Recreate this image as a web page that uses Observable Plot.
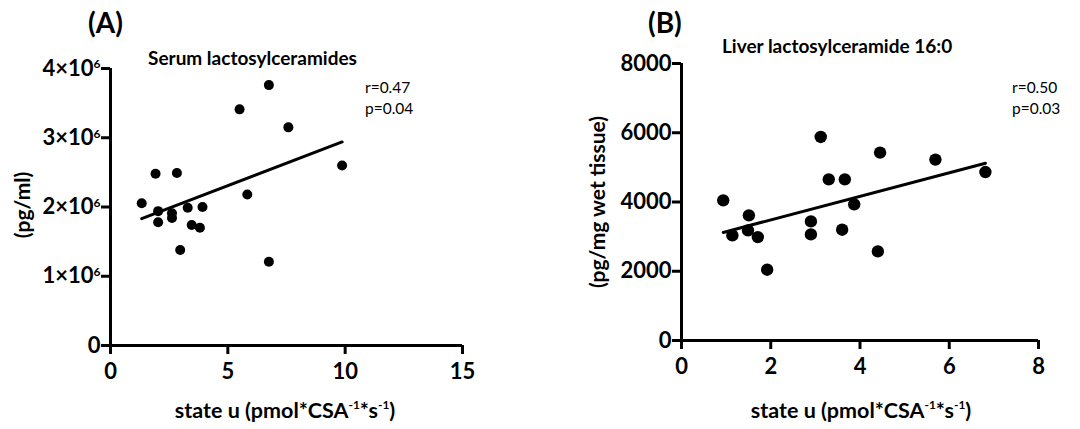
<!DOCTYPE html>
<html><head><meta charset="utf-8">
<script src="https://cdn.jsdelivr.net/npm/d3@7"></script>
<script src="https://cdn.jsdelivr.net/npm/@observablehq/plot@0.6"></script>
<style>
body{margin:0;background:#fff;font-family:Lato,"Open Sans",sans-serif;}
#root{position:relative;width:1080px;height:429px;overflow:hidden;background:#fff;}
#root svg{position:absolute;top:0;}
.t{position:absolute;white-space:nowrap;color:#000;line-height:1;}
.b{font-weight:bold;}
sup{font-size:0.55em;vertical-align:0.8em;line-height:0;}
</style></head><body><div id="root"></div>
<script>
// Panel A: Serum lactosylceramides
const serumX = [1.33,1.92,2.83,2.03,2.03,2.62,2.62,3.29,3.92,3.46,3.81,2.97,6.75,5.50,7.58,9.87,5.83,6.75];
const serumY = [2.055e6,2.48e6,2.49e6,1.94e6,1.78e6,1.91e6,1.84e6,1.99e6,2.00e6,1.74e6,1.70e6,1.38e6,3.76e6,3.41e6,3.15e6,2.60e6,2.18e6,1.21e6];
const serumXTicks = [0,5,10,15];
const serumYTicks = [0,1e6,2e6,3e6,4e6];
// Panel B: Liver lactosylceramide 16:0
const liverX = [0.935,1.14,1.51,1.49,1.71,1.92,2.90,2.90,3.12,3.30,3.66,3.60,3.87,4.45,4.40,5.69,6.81];
const liverY = [4047,3036,3614,3180,2987,2044,3440,3064,5878,4654,4654,3200,3932,5426,2573,5224,4866];
const liverXTicks = [0,2,4,6,8];
const liverYTicks = [0,2000,4000,6000,8000];

const FONT = 'Lato, "Open Sans", sans-serif';

function panel({xs, ys, xTicks, yTicks, yFormat, margins, r}) {
  const data = xs.map((x, i) => ({x, y: ys[i]}));
  return Plot.plot({
    width: 540, height: 429, ...margins,
    style: {fontFamily: FONT, fontSize: "22px", fontWeight: "bold", color: "black", background: "transparent", overflow: "visible"},
    x: {domain: [xTicks[0], xTicks[xTicks.length - 1]]},
    y: {domain: [yTicks[0], yTicks[yTicks.length - 1]]},
    marks: [
      Plot.axisX({ticks: xTicks, tickSize: 9, strokeWidth: 3, tickPadding: 9, label: null, fontWeight: "bold"}),
      Plot.axisY({ticks: yTicks, tickSize: 9, strokeWidth: 3, tickPadding: 1, label: null, tickFormat: yFormat, fontWeight: "bold"}),
      Plot.ruleY([yTicks[0]], {stroke: "black", strokeWidth: 3}),
      Plot.ruleX([xTicks[0]], {stroke: "black", strokeWidth: 3}),
      Plot.dot(data, {x: "x", y: "y", r, fill: "black", stroke: "none"}),
      Plot.linearRegressionY(data, {x: "x", y: "y", ci: 0, stroke: "black", strokeWidth: 3})
    ]
  });
}

const root = document.getElementById("root");

const svgA = panel({
  xs: serumX, ys: serumY, xTicks: serumXTicks, yTicks: serumYTicks,
  yFormat: d => d === 0 ? "0" : `${d / 1e6}×10`,
  margins: {marginLeft: 110, marginRight: 78, marginTop: 68, marginBottom: 84},
  r: 5
});
svgA.style.left = "0px";
root.appendChild(svgA);
svgA.querySelectorAll('g[aria-label="y-axis tick label"] text').forEach(t => {
  if (t.textContent.endsWith("×10")) {
    const s = document.createElementNS("http://www.w3.org/2000/svg", "tspan");
    s.setAttribute("dy", "-0.6em");
    s.setAttribute("font-size", "12");
    s.textContent = "6";
    t.appendChild(s);
  }
});

const svgB = panel({
  xs: liverX, ys: liverY, xTicks: liverXTicks, yTicks: liverYTicks,
  yFormat: d => String(d),
  margins: {marginLeft: 141, marginRight: 42, marginTop: 63, marginBottom: 89},
  r: 6.2
});
svgB.style.left = "540px";
root.appendChild(svgB);

const texts = [
  {html: "(A)", x: 88, y: 22, size: 28, bold: true, anchor: "left"},
  {html: "Serum lactosylceramides", x: 148, y: 57, size: 19, bold: true, anchor: "left"},
  {html: "r=0.47", x: 365, y: 88, size: 15.5, bold: false, anchor: "left"},
  {html: "p=0.04", x: 365, y: 109, size: 15.5, bold: false, anchor: "left"},
  {html: "(pg/ml)", x: 21, y: 205, size: 21, bold: true, anchor: "center", rotate: true},
  {html: "state u (pmol*CSA<sup>-1</sup>*s<sup>-1</sup>)", x: 285, y: 411, size: 21.5, bold: true, anchor: "center"},
  {html: "(B)", x: 648, y: 22, size: 28, bold: true, anchor: "left"},
  {html: "Liver lactosylceramide 16:0", x: 722, y: 45, size: 19, bold: true, anchor: "left"},
  {html: "r=0.50", x: 1012, y: 88, size: 15.5, bold: false, anchor: "left"},
  {html: "p=0.03", x: 1012, y: 109, size: 15.5, bold: false, anchor: "left"},
  {html: "(pg/mg wet tissue)", x: 596, y: 202, size: 21, bold: true, anchor: "center", rotate: true},
  {html: "state u (pmol*CSA<sup>-1</sup>*s<sup>-1</sup>)", x: 861, y: 411, size: 21.5, bold: true, anchor: "center"}
];
for (const t of texts) {
  const d = document.createElement("div");
  d.className = "t" + (t.bold ? " b" : "");
  d.innerHTML = t.html;
  d.style.left = t.x + "px";
  d.style.top = t.y + "px";
  d.style.fontSize = t.size + "px";
  const tx = t.anchor === "center" ? "-50%" : "0";
  d.style.transform = `translate(${tx},-50%)` + (t.rotate ? " rotate(-90deg)" : "");
  root.appendChild(d);
}
</script></body></html>
